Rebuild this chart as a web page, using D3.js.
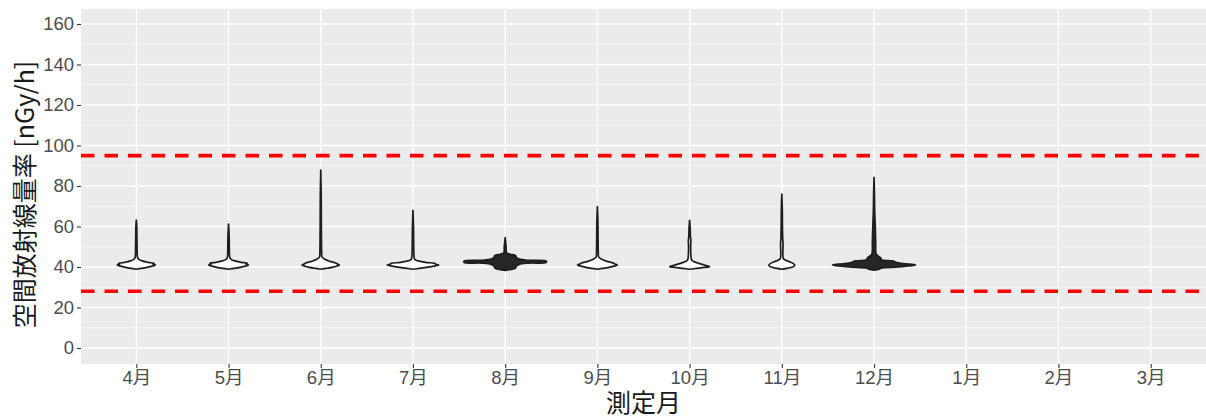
<!DOCTYPE html>
<html>
<head>
<meta charset="utf-8">
<script src="https://cdn.jsdelivr.net/npm/d3@7"></script>
<style>
  html, body { margin: 0; padding: 0; background: #ffffff; }
  svg { display: block; }
</style>
</head>
<body>
<svg id="chart" width="1206" height="419"></svg>
<script>
// ---------------- data ----------------
const months = ["4月", "5月", "6月", "7月", "8月", "9月", "10月", "11月", "12月", "1月", "2月", "3月"];
const yTicks = [0, 20, 40, 60, 80, 100, 120, 140, 160];
const yMinor = [10, 30, 50, 70, 90, 110, 130, 150];
const referenceLines = [95, 28];
const xTitle = "測定月";
const yTitle = "空間放射線量率 [nGy/h]";

// violin profiles: [dose rate (nGy/h), relative density width], one array per month
const violinApr = [[38.9,0],[39.3,0.13],[39.8,0.26],[40.4,0.38],[41.0,0.46],[41.4,0.40],[41.8,0.43],[42.3,0.28],[43.0,0.14],[43.8,0.06],[44.6,0.03],[46,0.022],[50,0.018],[55,0.014],[60,0.011],[63.2,0]];
const violinMay = [[38.9,0],[39.3,0.14],[39.8,0.28],[40.4,0.40],[41.0,0.48],[41.4,0.42],[41.8,0.45],[42.3,0.30],[43.0,0.15],[43.8,0.06],[44.6,0.03],[46,0.022],[50,0.018],[55,0.014],[61.2,0]];
const violinJun = [[38.9,0],[39.3,0.13],[39.8,0.27],[40.4,0.38],[41.0,0.45],[41.5,0.40],[42.0,0.36],[42.8,0.22],[43.8,0.10],[45.0,0.03],[47,0.022],[55,0.016],[65,0.013],[75,0.011],[87.9,0]];
const violinJul = [[38.9,0],[39.3,0.15],[39.8,0.32],[40.4,0.50],[41.0,0.62],[41.4,0.55],[41.8,0.52],[42.3,0.30],[43.0,0.12],[43.8,0.04],[45.5,0.025],[50,0.018],[58,0.014],[68,0]];
const violinAug = [[38.3,0],[38.8,0.14],[39.5,0.25],[40.5,0.27],[41.3,0.34],[41.9,0.55],[42.3,0.99],[42.9,0.99],[43.3,0.55],[43.9,0.34],[44.6,0.27],[45.6,0.25],[46.3,0.12],[47,0.035],[50,0.022],[54.5,0]];
const violinSep = [[38.9,0],[39.3,0.14],[39.8,0.28],[40.4,0.40],[41.0,0.48],[41.5,0.42],[42.0,0.38],[42.8,0.23],[43.8,0.10],[45.0,0.03],[47,0.022],[55,0.016],[62,0.013],[69.8,0]];
const violinOct = [[38.9,0],[39.3,0.16],[39.8,0.36],[40.2,0.48],[40.7,0.40],[41.3,0.30],[42.2,0.16],[43.5,0.05],[46,0.03],[50,0.025],[53,0.03],[55,0.02],[59,0.014],[63,0]];
const violinNov = [[38.9,0],[39.3,0.12],[39.9,0.24],[40.5,0.30],[41.0,0.31],[41.8,0.27],[42.6,0.18],[43.5,0.08],[44.3,0.035],[47,0.025],[51,0.03],[54,0.022],[60,0.015],[68,0.012],[76,0]];
const violinDec = [[38.5,0],[38.9,0.12],[39.5,0.18],[40.0,0.58],[40.6,0.85],[41.0,1.0],[41.4,0.85],[42.0,0.58],[43.0,0.45],[43.6,0.18],[44.5,0.16],[45.9,0.07],[47,0.045],[52,0.04],[56,0.035],[60,0.03],[65,0.02],[70,0.014],[76,0.01],[84.3,0]];
const violinProfiles = [violinApr, violinMay, violinJun, violinJul, violinAug, violinSep, violinOct, violinNov, violinDec, [], [], []];

// ---------------- layout ----------------
const svg = d3.select("#chart");
const panel = { left: 81, right: 1206, top: 9, bottom: 364 };
const darkFillMonths = new Set(["8月", "12月"]);

// ggplot discrete expansion: 0.6 units each side; categories spaced 1 unit
const x = d3.scalePoint()
  .domain(months)
  .range([panel.left, panel.right])
  .padding(0.6);
const step = x.step();
const xc = m => x(m);

const y = d3.scaleLinear().domain([-7.9, 167.4]).range([panel.bottom, panel.top]);
const w = d3.scaleLinear().domain([0, 1]).range([0, step * 0.45]);

// panel background
svg.append("rect")
  .attr("x", panel.left).attr("y", panel.top)
  .attr("width", panel.right - panel.left).attr("height", panel.bottom - panel.top)
  .attr("fill", "#ebebeb");

const grid = svg.append("g");
grid.selectAll("line.minor").data(yMinor).join("line")
  .attr("x1", panel.left).attr("x2", panel.right)
  .attr("y1", d => y(d)).attr("y2", d => y(d))
  .attr("stroke", "#ffffff").attr("stroke-width", 0.6);
grid.selectAll("line.majorY").data(yTicks).join("line")
  .attr("x1", panel.left).attr("x2", panel.right)
  .attr("y1", d => y(d)).attr("y2", d => y(d))
  .attr("stroke", "#ffffff").attr("stroke-width", 1.3);
grid.selectAll("line.majorX").data(months).join("line")
  .attr("x1", d => xc(d)).attr("x2", d => xc(d))
  .attr("y1", panel.top).attr("y2", panel.bottom)
  .attr("stroke", "#ffffff").attr("stroke-width", 1.3);

// violins
const area = d3.area()
  .y(d => y(d[0]))
  .curve(d3.curveCatmullRom.alpha(0.5));

months.forEach((m, i) => {
  const prof = violinProfiles[i];
  if (!prof.length) return;
  const cx = xc(m);
  area.x0(d => cx - w(d[1])).x1(d => cx + w(d[1]));
  svg.append("path")
    .datum(prof)
    .attr("d", area)
    .attr("fill", darkFillMonths.has(m) ? "#262626" : "#ffffff")
    .attr("stroke", "#1e1e1e")
    .attr("stroke-width", 1.7)
    .attr("stroke-linejoin", "round");
});

// reference lines
svg.selectAll("line.ref").data(referenceLines).join("line")
  .attr("x1", panel.left).attr("x2", panel.right)
  .attr("y1", d => y(d)).attr("y2", d => y(d))
  .attr("stroke", "#ff0000").attr("stroke-width", 3.6)
  .attr("stroke-dasharray", "13.5,10");

// axes
const font = "'Liberation Sans', Arial, 'Noto Sans CJK JP', sans-serif";
const yAxis = svg.append("g").attr("transform", `translate(${panel.left},0)`)
  .call(d3.axisLeft(y).tickValues(yTicks).tickSize(4).tickPadding(3));
yAxis.select(".domain").remove();
yAxis.selectAll(".tick line").attr("stroke", "#333333").attr("stroke-width", 1.1);
yAxis.selectAll(".tick text").attr("fill", "#4d4d4d")
  .style("font-family", font).style("font-size", "18.5px");

const xAxis = svg.append("g").attr("transform", `translate(0,${panel.bottom})`)
  .call(d3.axisBottom(x).tickSize(4).tickPadding(3));
xAxis.select(".domain").remove();
xAxis.selectAll(".tick line").attr("stroke", "#333333").attr("stroke-width", 1.1);
xAxis.selectAll(".tick text").attr("fill", "#4d4d4d")
  .style("font-family", font).style("font-size", "18.5px");

// titles
svg.append("text")
  .attr("x", (panel.left + panel.right) / 2)
  .attr("y", 412)
  .attr("text-anchor", "middle")
  .attr("fill", "#1a1a1a")
  .style("font-family", "'Noto Sans CJK JP', sans-serif")
  .style("font-size", "25px")
  .text(xTitle);

svg.append("text")
  .attr("transform", `translate(34,${(panel.top + panel.bottom) / 2 + 8}) rotate(-90)`)
  .attr("text-anchor", "middle")
  .attr("fill", "#1a1a1a")
  .style("font-family", "'Noto Sans CJK JP', sans-serif")
  .style("font-size", "25px")
  .text(yTitle);
</script>
</body>
</html>
